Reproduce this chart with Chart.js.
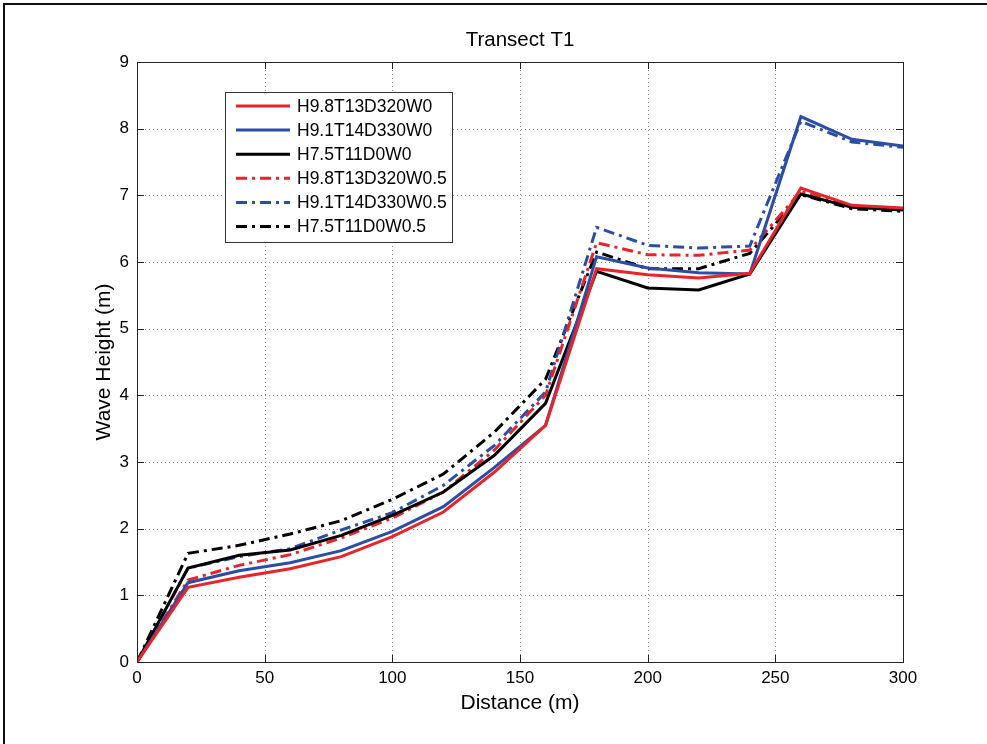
<!DOCTYPE html>
<html>
<head>
<meta charset="utf-8">
<title>Transect T1</title>
<script src="https://cdn.jsdelivr.net/npm/chart.js@4.4.1/dist/chart.umd.min.js"></script>
<style>
  html, body { margin: 0; padding: 0; background: #fff; overflow: hidden; }
  #wrap { position: relative; width: 987px; height: 744px; }
  #edge { position: absolute; left: 3px; top: 3px; width: 990px; height: 750px;
          border-left: 2px solid #111; border-top: 2px solid #111; pointer-events: none; }
</style>
</head>
<body>
<div id="wrap">
  <canvas id="chart" width="987" height="744"></canvas>
  <div id="edge"></div>
</div>
<script>
(function(){
  'use strict';

  const FONT = '"Liberation Sans", Arial, sans-serif';
  const TITLE = 'Transect T1';

  // distance along transect (m)
  const distance = [0, 20, 40, 60, 80, 100, 120, 140, 160, 180, 200, 220, 240, 260, 280, 300];

  // wave height (m) per scenario
  const h98w0  = [0, 1.12, 1.27, 1.40, 1.58, 1.88, 2.25, 2.85, 3.55, 5.90, 5.81, 5.76, 5.83, 7.11, 6.85, 6.81];
  const h91w0  = [0, 1.19, 1.37, 1.49, 1.67, 1.96, 2.33, 2.92, 3.55, 6.08, 5.91, 5.84, 5.82, 8.18, 7.84, 7.74];
  const h75w0  = [0, 1.41, 1.60, 1.68, 1.90, 2.20, 2.55, 3.10, 3.88, 5.86, 5.61, 5.58, 5.82, 7.02, 6.82, 6.78];
  const h98w05 = [0, 1.23, 1.45, 1.61, 1.86, 2.16, 2.55, 3.18, 4.00, 6.29, 6.11, 6.10, 6.18, 7.06, 6.83, 6.80];
  const h91w05 = [0, 1.41, 1.58, 1.70, 1.98, 2.24, 2.65, 3.25, 4.05, 6.52, 6.25, 6.21, 6.24, 8.11, 7.80, 7.72];
  const h75w05 = [0, 1.63, 1.75, 1.92, 2.12, 2.44, 2.82, 3.45, 4.24, 6.15, 5.90, 5.90, 6.13, 7.01, 6.80, 6.76];

  const labels = ['H9.8T13D320W0', 'H9.1T14D330W0', 'H7.5T11D0W0',
                  'H9.8T13D320W0.5', 'H9.1T14D330W0.5', 'H7.5T11D0W0.5'];
  const series = [h98w0, h91w0, h75w0, h98w05, h91w05, h75w05];
  const colors = ['#e8232a', '#2a4ea6', '#000000', '#e8232a', '#2a4ea6', '#000000'];

  const DASHDOT = [11, 5, 3, 5];

  const datasets = series.map(function(vals, i) {
    return {
      label: labels[i],
      data: distance.map(function(d, k) { return { x: d, y: vals[k] }; }),
      borderColor: colors[i],
      borderWidth: 3,
      borderDash: i < 3 ? [] : DASHDOT,
      pointRadius: 0,
      tension: 0,
      fill: false
    };
  });

  // MATLAB style axes: dotted grid underneath, box and inward ticks on top
  const matlabAxes = {
    id: 'matlabAxes',
    beforeDatasetsDraw: function(chart) {
      const ctx = chart.ctx, a = chart.chartArea;
      const xs = chart.scales.x, ys = chart.scales.y;
      ctx.save();
      ctx.strokeStyle = '#8a8a8a';
      ctx.lineWidth = 1;
      ctx.setLineDash([1, 3]);
      xs.ticks.forEach(function(t) {
        const px = Math.round(xs.getPixelForValue(t.value)) + 0.5;
        if (px <= a.left + 1 || px >= a.right - 1) return;
        ctx.beginPath(); ctx.moveTo(px, a.top); ctx.lineTo(px, a.bottom); ctx.stroke();
      });
      ys.ticks.forEach(function(t) {
        const py = Math.round(ys.getPixelForValue(t.value)) + 0.5;
        if (py <= a.top + 1 || py >= a.bottom - 1) return;
        ctx.beginPath(); ctx.moveTo(a.left, py); ctx.lineTo(a.right, py); ctx.stroke();
      });
      ctx.restore();
    },
    afterDatasetsDraw: function(chart) {
      const ctx = chart.ctx, a = chart.chartArea;
      const xs = chart.scales.x, ys = chart.scales.y;
      const tl = 7;
      ctx.save();
      ctx.strokeStyle = '#222';
      ctx.lineWidth = 1;
      ctx.setLineDash([]);
      ctx.strokeRect(Math.round(a.left) + 0.5, Math.round(a.top) + 0.5,
                     Math.round(a.right - a.left), Math.round(a.bottom - a.top));
      ctx.beginPath();
      xs.ticks.forEach(function(t) {
        const px = Math.round(xs.getPixelForValue(t.value)) + 0.5;
        ctx.moveTo(px, a.bottom); ctx.lineTo(px, a.bottom - tl);
        ctx.moveTo(px, a.top); ctx.lineTo(px, a.top + tl);
      });
      ys.ticks.forEach(function(t) {
        const py = Math.round(ys.getPixelForValue(t.value)) + 0.5;
        ctx.moveTo(a.left, py); ctx.lineTo(a.left + tl, py);
        ctx.moveTo(a.right, py); ctx.lineTo(a.right - tl, py);
      });
      ctx.stroke();

      // title centred over the axes, like MATLAB does
      ctx.fillStyle = '#000';
      ctx.font = '20.5px ' + FONT;
      ctx.textAlign = 'center';
      ctx.textBaseline = 'middle';
      ctx.fillText(TITLE, (a.left + a.right) / 2, a.top - 22);
      ctx.restore();
    }
  };

  // legend box drawn inside the plot, upper left
  const boxLegend = {
    id: 'boxLegend',
    afterDraw: function(chart) {
      const ctx = chart.ctx, a = chart.chartArea;
      const left = Math.round(a.left + 88), top = Math.round(a.top + 30);
      const w = 227, h = 150, row = 24.1;
      ctx.save();
      ctx.fillStyle = '#fff';
      ctx.fillRect(left, top, w, h);
      ctx.strokeStyle = '#333';
      ctx.lineWidth = 1;
      ctx.strokeRect(left + 0.5, top + 0.5, w, h);
      ctx.font = '17.5px ' + FONT;
      ctx.textBaseline = 'middle';
      ctx.fillStyle = '#000';
      chart.data.datasets.forEach(function(ds, i) {
        const y = top + 14 + i * row;
        ctx.strokeStyle = ds.borderColor;
        ctx.lineWidth = 3;
        ctx.setLineDash(ds.borderDash);
        ctx.beginPath(); ctx.moveTo(left + 11, y); ctx.lineTo(left + 65, y); ctx.stroke();
        ctx.setLineDash([]);
        ctx.fillText(ds.label, left + 72, y + 1);
      });
      ctx.restore();
    }
  };

  new Chart(document.getElementById('chart'), {
    type: 'line',
    data: { datasets: datasets },
    plugins: [matlabAxes, boxLegend],
    options: {
      responsive: false,
      animation: false,
      layout: { padding: { left: 88, right: 84, top: 62, bottom: 24 } },
      plugins: {
        legend: { display: false },
        tooltip: { enabled: false },
        title: { display: false }
      },
      scales: {
        x: {
          type: 'linear',
          min: 0, max: 300,
          ticks: { stepSize: 50, color: '#000', padding: 6, font: { family: FONT, size: 17 } },
          grid: { display: false, drawTicks: false },
          border: { display: false },
          title: { display: true, text: 'Distance (m)', color: '#000',
                   font: { family: FONT, size: 21 }, padding: { top: 2, bottom: 4 } },
          afterFit: function(s) { s.height = 58; }
        },
        y: {
          type: 'linear',
          min: 0, max: 9,
          ticks: { stepSize: 1, color: '#000', padding: 8, font: { family: FONT, size: 17 } },
          grid: { display: false, drawTicks: false },
          border: { display: false },
          title: { display: true, text: 'Wave Height (m)', color: '#000',
                   font: { family: FONT, size: 21 }, padding: { top: 4, bottom: 4 } },
          afterFit: function(s) { s.width = 49; }
        }
      }
    }
  });
}());
</script>
</body>
</html>
